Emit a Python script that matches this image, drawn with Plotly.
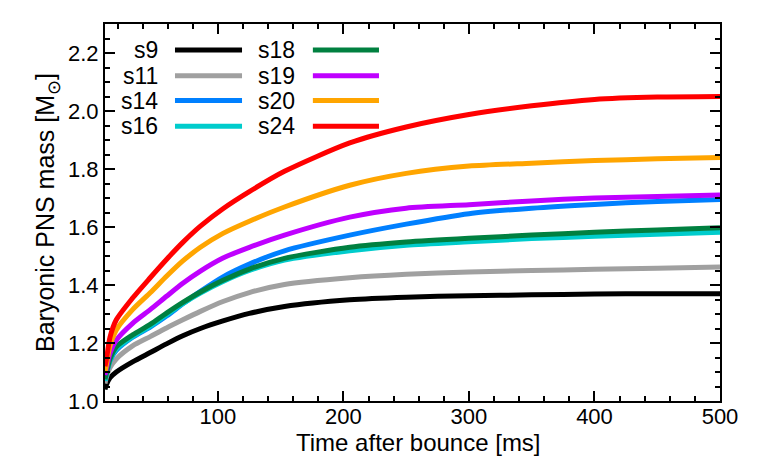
import plotly.graph_objects as go

# time after bounce [ms]
t = [10, 11, 14, 19, 32, 46, 59, 72, 86, 104, 125, 153, 205, 250, 300, 350, 400, 450, 500]

names = ['s9', 's11', 's14', 's16', 's18', 's19', 's20', 's24']
colors = ['#000000', '#a0a0a0', '#0080ff', '#00cccc', '#008040', '#bf00ff', '#ffa500', '#ff0000']

m_s9 = [1.04, 1.055, 1.08, 1.10, 1.135, 1.167, 1.197, 1.225, 1.25, 1.276, 1.302, 1.326, 1.349, 1.358, 1.363, 1.366, 1.369, 1.37, 1.37]
m_s11 = [1.06, 1.08, 1.115, 1.145, 1.19, 1.222, 1.252, 1.28, 1.309, 1.343, 1.374, 1.402, 1.425, 1.437, 1.445, 1.45, 1.454, 1.458, 1.462]
m_s14 = [1.07, 1.09, 1.14, 1.175, 1.22, 1.255, 1.293, 1.335, 1.378, 1.428, 1.472, 1.518, 1.572, 1.61, 1.646, 1.665, 1.678, 1.688, 1.695]
m_s16 = [1.07, 1.09, 1.14, 1.18, 1.222, 1.258, 1.298, 1.336, 1.372, 1.412, 1.45, 1.486, 1.518, 1.537, 1.549, 1.56, 1.568, 1.575, 1.582]
m_s18 = [1.075, 1.094, 1.145, 1.187, 1.228, 1.264, 1.303, 1.34, 1.376, 1.416, 1.455, 1.492, 1.53, 1.548, 1.561, 1.572, 1.582, 1.59, 1.597]
m_s19 = [1.09, 1.111, 1.165, 1.21, 1.268, 1.315, 1.361, 1.406, 1.448, 1.493, 1.53, 1.572, 1.634, 1.665, 1.677, 1.69, 1.70, 1.705, 1.71]
m_s20 = [1.10, 1.123, 1.19, 1.245, 1.315, 1.373, 1.43, 1.483, 1.53, 1.578, 1.62, 1.669, 1.744, 1.785, 1.81, 1.82, 1.829, 1.835, 1.84]
m_s24 = [1.12, 1.14, 1.22, 1.28, 1.355, 1.425, 1.488, 1.547, 1.603, 1.663, 1.722, 1.792, 1.89, 1.945, 1.988, 2.018, 2.04, 2.048, 2.05]

masses = [m_s9, m_s11, m_s14, m_s16, m_s18, m_s19, m_s20, m_s24]

FONT = 'Liberation Sans, Arial, sans-serif'

fig = go.Figure()
for name, col, m in zip(names, colors, masses):
    fig.add_trace(go.Scatter(x=t, y=m, mode='lines', name=name,
                             line=dict(color=col, width=5, shape='spline', smoothing=0.7),
                             showlegend=False))

# hand-made legend: label on the left, line sample on the right
leg_rows = [0.931, 0.863, 0.797, 0.729]
leg_cols = [(0.0894, 0.1138, 0.2228), (0.312, 0.338, 0.4455)]
for i, (name, col) in enumerate(zip(names, colors)):
    cx = leg_cols[i // 4]
    yy = leg_rows[i % 4]
    fig.add_annotation(x=cx[0], y=yy, xref='paper', yref='paper', text=name,
                       showarrow=False, xanchor='right', yanchor='middle',
                       font=dict(size=23, color='black', family=FONT))
    fig.add_shape(type='line', xref='paper', yref='paper', x0=cx[1], x1=cx[2], y0=yy, y1=yy,
                  line=dict(color=col, width=5))

# x title as annotation so it can sit closer to the tick labels
fig.add_annotation(x=0.51, y=-0.11, xref='paper', yref='paper', text='Time after bounce [ms]',
                   showarrow=False, xanchor='center', yanchor='middle',
                   font=dict(size=24, color='black', family=FONT))

axis_common = dict(showline=True, linecolor='black', linewidth=2, mirror='allticks',
                   ticks='inside', ticklen=10, tickwidth=2, tickcolor='black',
                   showgrid=False, zeroline=False,
                   tickfont=dict(size=22, color='black', family=FONT))

fig.update_xaxes(range=[10, 500], tickvals=[100, 200, 300, 400, 500], ticklabelstandoff=-5,
                 minor=dict(dtick=20, tick0=0, ticks='inside', ticklen=5, tickwidth=2, tickcolor='black'),
                 **axis_common)
fig.update_yaxes(range=[1.0, 2.3], tickvals=[1.0, 1.2, 1.4, 1.6, 1.8, 2.0, 2.2], tickformat='.1f',
                 minor=dict(dtick=0.05, tick0=1.0, ticks='inside', ticklen=5, tickwidth=2, tickcolor='black'),
                 title=dict(text='Baryonic PNS mass [M<sub>⊙</sub>]', font=dict(size=25, color='black', family=FONT), standoff=6),
                 **axis_common)

# page body adds an 8px offset, so margins are shifted to keep the plot box in place
fig.update_layout(width=764, height=459, margin=dict(l=97, r=52, t=16, b=66),
                  plot_bgcolor='white', paper_bgcolor='white',
                  font=dict(family=FONT, color='black'))

fig.write_html('out.html')
